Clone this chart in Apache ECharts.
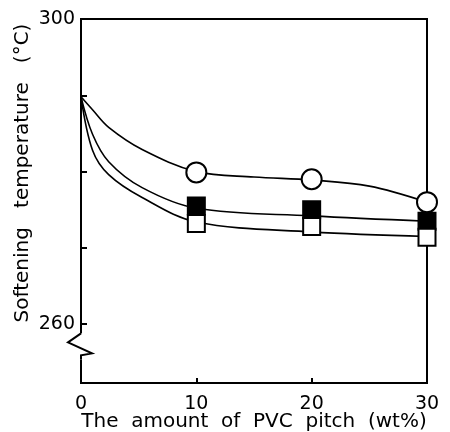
<!DOCTYPE html>
<html>
<head>
<meta charset="utf-8">
<script src="https://cdn.jsdelivr.net/npm/echarts@6/dist/echarts.min.js"></script>
<style>
html, body { margin: 0; padding: 0; background: #fff; }
#main { width: 450px; height: 432px; }
</style>
</head>
<body>
<div id="main"></div>
<script>
// measured points
var pitch = [10, 20, 30];
var circleVals = [279.9, 279.0, 276.0];
var filledVals = [275.5, 275.0, 273.5];
var openVals = [273.2, 272.8, 271.4];

// the hand drawn curves
var circleCurveX = [0, 1, 2.4, 5.3, 10, 15, 20, 25, 30];
var circleCurveY = [289.8, 288.1, 285.8, 282.9, 280.0, 279.3, 278.9, 278.1, 276.0];
var filledCurveX = [0, 1, 2.4, 5.3, 10, 20, 30];
var filledCurveY = [289.8, 284.9, 281.3, 277.9, 275.2, 274.2, 273.5];
var openCurveX = [0, 1, 2.4, 5.3, 10, 20, 30];
var openCurveY = [289.8, 282.8, 279.6, 276.6, 273.4, 272.1, 271.5];

var yTicks = [260, 270, 280, 290, 300];
var yLabels = [260, 300];
var xTicks = [0, 10, 20, 30];

function pairs(xs, ys) {
    var out = [];
    for (var i = 0; i < xs.length; i++) out.push([xs[i], ys[i]]);
    return out;
}

var font = 'DejaVu Sans';
var chart = echarts.init(document.getElementById('main'));

function curve(xs, ys) {
    return {
        type: 'line',
        data: pairs(xs, ys),
        smooth: 0.35,
        symbol: 'none',
        lineStyle: { color: '#000', width: 1.6 },
        silent: true,
        z: 2
    };
}

function marks(vals, symbol, size, fill) {
    return {
        type: 'scatter',
        data: pairs(pitch, vals),
        symbol: symbol,
        symbolSize: size,
        itemStyle: { color: fill, borderColor: '#000', borderWidth: 2, opacity: 1 },
        z: 3
    };
}

var option = {
    animation: false,
    backgroundColor: '#fff',
    grid: {
        left: 81, right: 23, top: 19, bottom: 49,
        outerBoundsMode: 'none',
        containLabel: false,
        show: true, borderColor: '#000', borderWidth: 2, backgroundColor: 'transparent'
    },
    xAxis: {
        type: 'value',
        min: 0, max: 30,
        name: 'The  amount  of  PVC  pitch  (wt%)',
        nameLocation: 'middle',
        nameGap: 29,
        nameMoveOverlap: false,
        nameTextStyle: { fontFamily: font, fontSize: 20, color: '#000' },
        axisLine: { show: true, lineStyle: { color: '#000', width: 2 } },
        axisTick: { show: true, inside: true, length: 5, customValues: xTicks, lineStyle: { color: '#000', width: 2 } },
        axisLabel: { customValues: xTicks, fontFamily: font, fontSize: 19, color: '#000', margin: 12 },
        splitLine: { show: false }
    },
    yAxis: {
        type: 'value',
        min: 252.3, max: 300,
        name: 'Softening   temperature   (°C)',
        nameLocation: 'middle',
        nameGap: 48,
        nameMoveOverlap: false,
        nameTextStyle: { fontFamily: font, fontSize: 20, color: '#000', padding: [0, 0, 0, 56] },
        axisLine: { show: true, lineStyle: { color: '#000', width: 2 } },
        axisTick: { show: true, inside: true, length: 6, customValues: yTicks, lineStyle: { color: '#000', width: 2 } },
        axisLabel: { customValues: yLabels, fontFamily: font, fontSize: 19, color: '#000', margin: 6 },
        splitLine: { show: false }
    },
    series: [
        curve(circleCurveX, circleCurveY),
        curve(filledCurveX, filledCurveY),
        curve(openCurveX, openCurveY),
        marks(circleVals, 'circle', 20, '#fff'),
        marks(filledVals, 'rect', 17, '#000'),
        marks(openVals, 'rect', 17, '#fff')
    ]
};
chart.setOption(option);

// axis break zigzag between 260 and the bottom of the axis
var brkTop = chart.convertToPixel({ gridIndex: 0 }, [0, 258.8]);
var brkBot = chart.convertToPixel({ gridIndex: 0 }, [0, 255.4]);
var ax = brkTop[0];
chart.setOption({
    graphic: [
        {
            type: 'rect',
            shape: { x: ax - 3, y: brkTop[1], width: 6, height: brkBot[1] - brkTop[1] },
            style: { fill: '#fff' },
            z: 10
        },
        {
            type: 'polyline',
            shape: { points: [[ax, brkTop[1]], [ax - 13, brkTop[1] + 9], [ax + 11, brkTop[1] + 20], [ax, brkBot[1] - 4], [ax, brkBot[1]]] },
            style: { stroke: '#000', lineWidth: 2, fill: null },
            z: 11
        }
    ]
});
</script>
</body>
</html>
